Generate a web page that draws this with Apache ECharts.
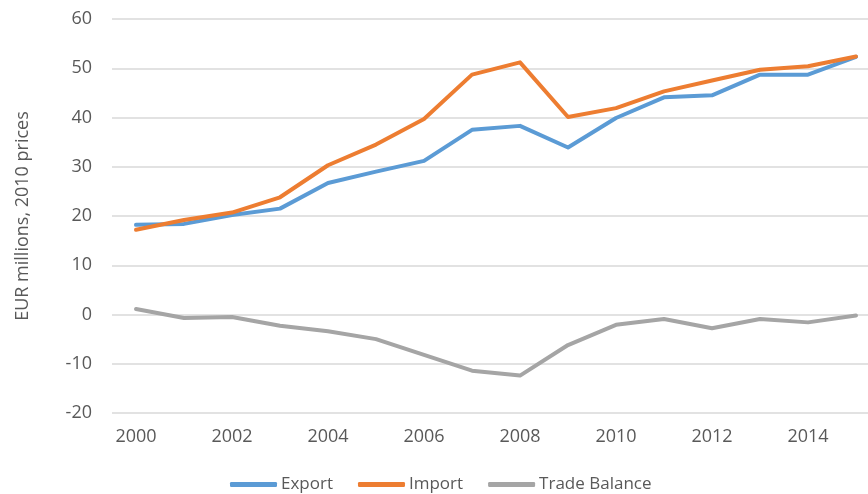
<!DOCTYPE html>
<html><head><meta charset="utf-8">
<script src="https://cdn.jsdelivr.net/npm/echarts@6/dist/echarts.min.js"></script>
<style>html,body{margin:0;padding:0;background:#fff}#c{width:868px;height:494px}</style>
</head><body><div id="c"></div>
<script>
const years = [2000,2001,2002,2003,2004,2005,2006,2007,2008,2009,2010,2011,2012,2013,2014,2015];
const yearTicks = [2000,2002,2004,2006,2008,2010,2012,2014];
const exportVals = [18.2,18.4,20.2,21.5,26.7,29.0,31.2,37.5,38.3,33.9,39.9,44.1,44.5,48.7,48.7,52.3];
const importVals = [17.2,19.2,20.7,23.8,30.3,34.5,39.7,48.7,51.2,40.1,41.9,45.3,47.5,49.7,50.4,52.4];
const balanceVals = [1.1,-0.7,-0.5,-2.3,-3.4,-5.0,-8.2,-11.4,-12.4,-6.2,-2.1,-0.9,-2.8,-0.9,-1.6,-0.2];
const yAxisName = 'EUR millions, 2010 prices';

const font = '"Open Sans", sans-serif';
const chart = echarts.init(document.getElementById('c'), null, {renderer:'canvas'});
const mk = (name, vals, color) => ({
  name, type:'line', data: years.map((y,i)=>[y, vals[i]]), symbol:'none', smooth:false,
  lineStyle:{color, width:4, cap:'round', join:'round'}, itemStyle:{color}
});
chart.setOption({
  animation:false,
  textStyle:{fontFamily:font},
  grid:{left:112, top:19, right:0, height:394},
  legend:{
    left:225, top:471, itemWidth:47, itemHeight:5, itemGap:25, icon:'roundRect',
    textStyle:{color:'#595959', fontSize:17, fontFamily:font, padding:[0,0,0,-1]},
    data:['Export','Import','Trade Balance']
  },
  xAxis:{
    type:'value', min:1999.5, max:2015.25,
    axisLine:{show:false}, axisTick:{show:false}, splitLine:{show:false},
    axisLabel:{customValues:yearTicks, formatter:v=>String(v), color:'#595959', fontSize:18, fontFamily:font, margin:15, showMinLabel:true, showMaxLabel:true}
  },
  yAxis:{
    type:'value', min:-20, max:60, interval:10,
    name:yAxisName, nameLocation:'middle', nameGap:80,
    nameTextStyle:{color:'#595959', fontSize:18, fontFamily:font},
    axisLine:{show:false}, axisTick:{show:false},
    axisLabel:{color:'#595959', fontSize:18, fontFamily:font, margin:20},
    splitLine:{lineStyle:{color:'#d9d9d9', width:1.5}}
  },
  series:[
    mk('Export', exportVals, '#5b9bd5'),
    mk('Import', importVals, '#ed7d31'),
    mk('Trade Balance', balanceVals, '#a5a5a5')
  ]
});
</script></body></html>
